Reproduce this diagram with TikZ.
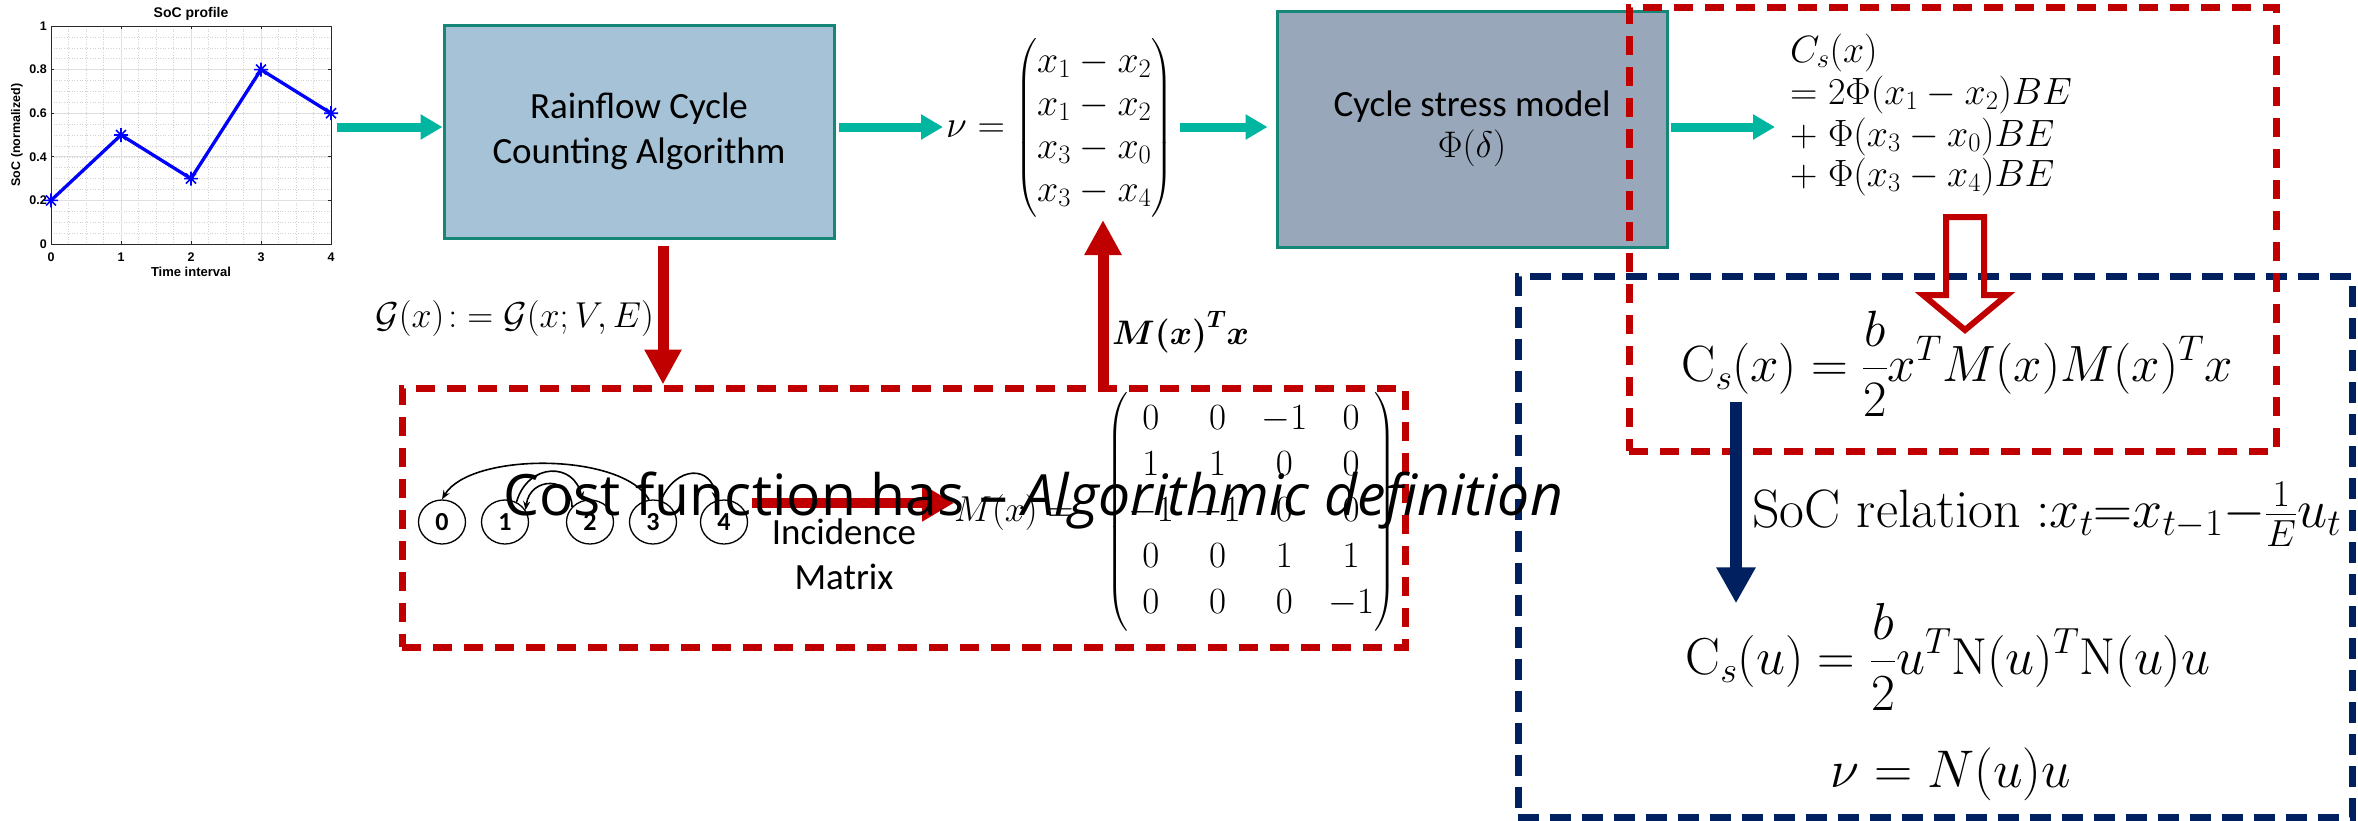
\RequirePackage{fix-cm}
\documentclass[tikz,border=0pt]{standalone}
\usepackage{amsmath,bm}
\usepackage{fontspec}
\newfontfamily\calib{Carlito}
\newfontfamily\osans{Open Sans}
\newfontfamily\helv{Liberation Sans}
\usetikzlibrary{arrows.meta,calc,shapes.geometric}

\definecolor{arrowteal}{RGB}{0,182,160}
\definecolor{boxedge}{RGB}{22,134,118}
\definecolor{rainfill}{RGB}{165,194,214}
\definecolor{stressfill}{RGB}{152,167,186}
\definecolor{dred}{RGB}{192,0,0}
\definecolor{dnavy}{RGB}{0,32,96}
\definecolor{socblue}{RGB}{0,0,255}
\definecolor{axisgray}{RGB}{40,40,40}

\tikzset{
  tealarrow/.style={draw=arrowteal, line width=9pt, -{Triangle[length=22pt,width=24pt]}},
  redarrow/.style={draw=dred, line width=11pt, -{Triangle[length=35pt,width=35pt]}},
  redarrowh/.style={draw=dred, line width=10pt, -{Triangle[length=32pt,width=35pt]}},
  navyarrow/.style={draw=dnavy, line width=12pt, -{Triangle[length=36pt,width=37pt]}},
  procbox/.style={draw=boxedge, line width=3pt, align=center, inner sep=0,
    font={\calib\fontsize{37}{45}\selectfont}},
  reddash/.style={draw=dred, line width=7pt, dash pattern=on 19pt off 12pt, inner sep=0},
  navydash/.style={draw=dnavy, line width=7pt, dash pattern=on 21pt off 11pt, inner sep=0},
  gnode/.style={draw, ellipse, minimum width=47pt, minimum height=44pt, inner sep=0,
    line width=1.3pt, font={\calib\bfseries\fontsize{26}{30}\selectfont}},
  garc/.style={line width=1.6pt, -{Stealth[length=9pt,width=7pt]}},
  cstxt/.style={anchor=base west, inner sep=0, font={\fontsize{38}{44}\selectfont}},
  minorgrid/.style={draw=gray!35, line width=0.6pt, dotted},
  majorgrid/.style={draw=gray!25, line width=0.7pt},
  axisline/.style={draw=axisgray, line width=0.9pt},
  ticklab/.style={font={\helv\bfseries\fontsize{12.5}{14}\selectfont}, inner sep=1pt},
}

\begin{document}
\begin{tikzpicture}[x=1pt,y=-1pt]
\useasboundingbox (0,0) rectangle (2358,820);
\fill[white] (0,0) rectangle (2358,820);

% ---------- SoC profile chart ----------
\foreach \t in {1,...,15}{\draw[minorgrid] ({51+17.5*\t},26) -- ({51+17.5*\t},244);}
\foreach \v in {1,...,19}{\draw[minorgrid] (51,{244-10.9*\v}) -- (331,{244-10.9*\v});}
\foreach \t in {1,2,3}{\draw[majorgrid] ({51+70*\t},26) -- ({51+70*\t},244);}
\foreach \v in {1,...,4}{\draw[majorgrid] (51,{244-43.6*\v}) -- (331,{244-43.6*\v});}
\draw[axisline] (51,26) rectangle (331,244);
\foreach \t in {0,...,4}{
  \draw[axisline] ({51+70*\t},244) -- ++(0,-3);
  \draw[axisline] ({51+70*\t},26) -- ++(0,3);
  \node[ticklab] at ({51+70*\t},257) {\t};
}
\foreach \v/\lab in {0/0,1/0.2,2/0.4,3/0.6,4/0.8,5/1}{
  \draw[axisline] (51,{244-43.6*\v}) -- ++(3,0);
  \draw[axisline] (331,{244-43.6*\v}) -- ++(-3,0);
  \node[ticklab, anchor=east] at (48,{244-43.6*\v}) {\lab};
}
\node[font={\helv\bfseries\fontsize{14}{16}\selectfont}] at (191,14) {SoC profile};
\node[font={\helv\bfseries\fontsize{13}{15}\selectfont}] at (191,272) {Time interval};
\node[font={\helv\bfseries\fontsize{12.5}{15}\selectfont}, rotate=90] at (17,135) {SoC (normalized)};
\draw[socblue, line width=3.3pt, line join=round]
  (51,200.4) -- (121,135) -- (191,178.6) -- (261,69.6) -- (331,113.2);
\foreach \px/\py in {51/200.4,121/135,191/178.6,261/69.6,331/113.2}{
  \draw[socblue, line width=1.6pt] (\px-7,\py) -- (\px+7,\py) (\px,\py-7) -- (\px,\py+7)
    (\px-5,\py-5) -- (\px+5,\py+5) (\px-5,\py+5) -- (\px+5,\py-5);
}

% ---------- top row ----------
\node[procbox, fill=rainfill, minimum width=390pt, minimum height=213pt] (rain) at (639,131.5)
  {Rainflow Cycle\\Counting Algorithm};
\node[procbox, fill=stressfill, minimum width=390pt, minimum height=236pt] (stress) at (1472,129)
  {Cycle stress model\\[-4pt]$\Phi(\delta)$};
\node[anchor=west, inner sep=3pt, font={\fontsize{38}{43}\selectfont}] (nu) at (943,128)
  {$\nu = \begin{pmatrix} x_1-x_2\\ x_1-x_2\\ x_3-x_0\\ x_3-x_4\end{pmatrix}$};
\node[cstxt] (cs1) at (1790,62) {$C_s(x)$};
\node[cstxt] (cs2) at (1790,104) {$=2\Phi(x_1-x_2)BE$};
\node[cstxt] (cs3) at (1790,146) {$+\;\Phi(x_3-x_0)BE$};
\node[cstxt] (cs4) at (1790,186) {$+\;\Phi(x_3-x_4)BE$};

\coordinate (plotout) at (337,127);
\coordinate (csin) at (1775,127);
\draw[tealarrow] (plotout) -- (rain.west |- plotout);
\draw[tealarrow] ($(rain.east |- plotout)+(3,0)$) -- (nu.west |- plotout);
\draw[tealarrow] ($(nu.east |- plotout)+(4,0)$) -- ($(stress.west |- plotout)+(-8,0)$);
\draw[tealarrow] ($(stress.east |- csin)+(2,0)$) -- (csin);

% ---------- dashed frames ----------
\node[reddash, minimum width=1003pt, minimum height=259pt] (algbox) at (903.5,517.5) {};
\node[navydash, minimum width=834pt, minimum height=541pt] (ubox) at (1935,546.5) {};
\node[reddash, minimum width=647pt, minimum height=444pt] (quadbox) at (1952.5,229) {};

% ---------- rainflow graph and incidence matrix ----------
\coordinate (gtop) at ($(rain.south)+(24,6)$);
\draw[redarrow] (gtop) -- (gtop |- algbox.north);
\node[anchor=east, inner sep=0, font={\fontsize{36}{40}\selectfont}] (glabel) at (654,318)
  {$\mathcal{G}(x)\!:\;=\mathcal{G}(x;V,E)$};

\coordinate (mcol) at (1103,220);
\draw[redarrow] (mcol |- algbox.north) -- (mcol);
\node[anchor=west, inner sep=0, font={\fontsize{34}{38}\selectfont}] (mtlabel) at (1112,332)
  {$\bm{M(x)^T x}$};

\node[gnode] (n0) at (442,522) {0};
\node[gnode] (n1) at (505,522) {1};
\node[gnode] (n2) at (590,522) {2};
\node[gnode] (n3) at (653,522) {3};
\node[gnode] (n4) at (724,522) {4};
\draw[garc] (n3.100) .. controls (622,452) and (470,452) .. (n0.north);
\draw[garc] (n1.60) .. controls (528,462) and (575,462) .. (n2.110);
\draw[garc] (n2.140) .. controls (572,476) and (530,476) .. (n1.30);
\draw[garc] (n3.70) .. controls (676,465) and (712,465) .. (n4.110);

\node[align=center, inner sep=0, font={\calib\fontsize{37}{45}\selectfont}] (inctext) at (844,554)
  {Incidence\\Matrix};

\node[anchor=west, inner sep=0, font={\fontsize{36}{46}\selectfont}] (Mx) at (954,512) {$M(x) =$};
\node[inner sep=0, font={\fontsize{37}{46}\selectfont}] (Mmat) at (1251,512)
  {\setlength{\arraycolsep}{10.5pt}$\begin{pmatrix} 0&0&-1&0\\ 1&1&0&0\\ -1&-1&0&0\\ 0&0&1&1\\ 0&0&0&-1 \end{pmatrix}$};
\coordinate (incA) at (752,503);
\draw[redarrowh] (incA) -- (Mx.west |- incA);

% ---------- quadratic form of the cost ----------
\draw[draw=dred, line width=6pt, line join=miter]
  (1946,217) -- (1984,217) -- (1984,295) -- (2007,295) -- (1965,330) -- (1923,295) -- (1946,295) -- cycle;
\node[inner sep=0, font={\fontsize{51}{58}\selectfont}] (csx) at (1957,364)
  {$\displaystyle \mathrm{C}_s(x) = \frac{b}{2}x^T M(x)M(x)^T x$};
\node[inner sep=0, font={\fontsize{52}{58}\selectfont}] (csu) at (1948,657)
  {$\displaystyle \mathrm{C}_s(u) = \frac{b}{2}u^T \mathrm{N}(u)^T \mathrm{N}(u)u$};
\node[inner sep=0, font={\fontsize{53}{58}\selectfont}] (nun) at (1951,774) {$\nu = N(u)u$};
\node[anchor=west, inner sep=0, font={\fontsize{54}{58}\selectfont}] (socrel) at (1752,514)
  {$\text{SoC relation}\;{:}x_t{=}x_{t-1}{-}\tfrac{1}{E}u_t$};
\coordinate (navytop) at (1736,402);
\draw[navyarrow] (navytop) -- (navytop |- csu.north);

% ---------- headline ----------
\node[anchor=base west, inner sep=0, font={\osans\fontsize{57}{60}\selectfont}] (claim) at (503,515)
  {Cost function has – \textit{Algorithmic definition}};
\end{tikzpicture}
\end{document}
